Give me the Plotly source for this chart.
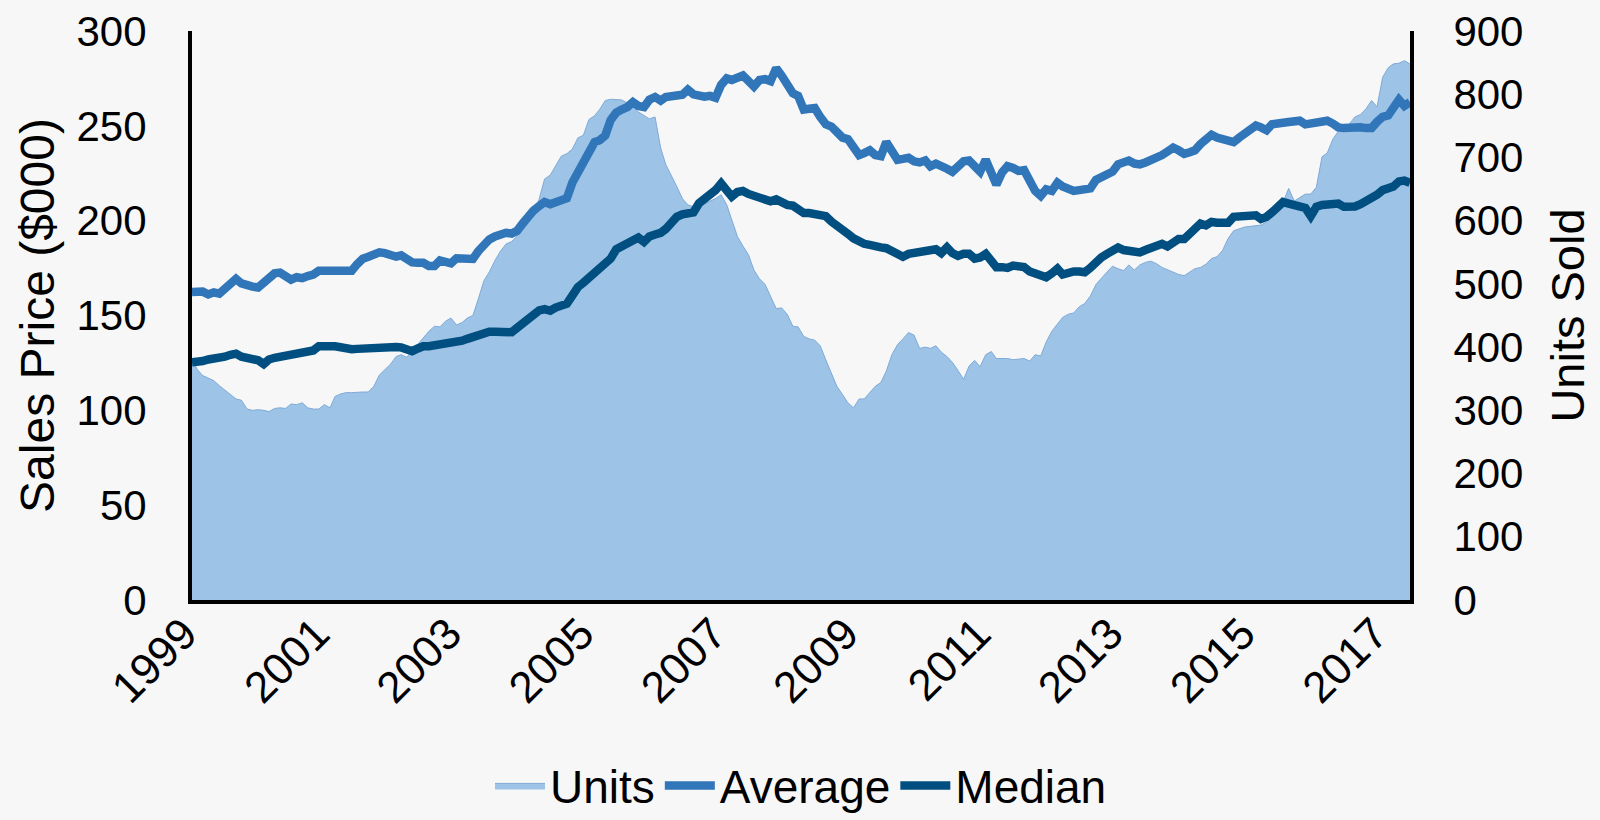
import pandas as pd
import plotly.graph_objects as go

start_month = "1999-01-01"
n_months = 222

average = [
    162.4, 162.8, 162.6, 161.1, 162.2, 161.5, 164.0, 166.9, 169.3, 166.9,
    165.4, 165.2, 164.8, 166.9, 169.8, 172.2, 172.6, 170.8, 168.9, 170.2,
    169.7, 170.8, 171.6, 173.6, 173.6, 172.6, 172.6, 172.8, 173.2, 173.6,
    177.1, 180.0, 181.0, 182.5, 183.3, 182.9, 181.4, 181.0,
    181.7, 180.0, 178.0, 177.8, 177.8, 176.1, 176.1, 179.0, 178.6, 177.5,
    180.2, 180.4, 180.0, 179.8, 183.9, 187.2, 190.1, 191.7, 193.1, 193.6,
    193.2, 194.6, 198.5, 202.4, 205.3, 207.7, 209.8, 208.7, 209.8, 211.2,
    211.8, 220.0, 225.8, 231.3, 237.5, 241.4, 242.4,
    244.9, 253.1, 257.0, 258.6, 259.9,
    262.5, 260.5, 259.9, 263.8, 265.2, 263.3, 265.2, 266.0, 266.0, 266.4,
    269.1, 266.6, 265.6, 265.4, 265.8, 264.8, 271.6, 275.0, 274.2, 275.0,
    276.5, 273.6, 270.7, 274.2, 274.6, 273.6, 280.4, 276.5, 270.7, 267.2,
    265.8, 258.6,
    259.0, 259.4, 254.7, 250.8, 249.6, 246.9, 243.8, 243.0,
    238.5, 234.6, 235.6, 237.1, 234.6, 234.0, 241.4, 236.0, 232.1, 232.6,
    233.2, 231.3, 230.7, 231.7, 228.7, 230.1, 228.2, 227.4, 225.8, 228.7,
    231.3, 231.7, 228.7, 225.8, 232.1, 223.9, 219.0, 225.4, 228.7,
    227.8, 226.2, 226.6, 220.0, 215.7, 213.1, 216.5, 215.7, 220.0, 218.0,
    216.5, 215.7, 216.1, 216.6, 217.0, 221.5, 222.9, 225.2, 225.8, 229.7,
    230.7, 231.7, 230.1, 229.7, 230.7, 231.7, 232.8, 234.6, 236.5, 238.5,
    237.1, 235.2, 236.1, 237.1, 240.4, 243.4, 245.3,
    243.8, 243.0, 241.8, 241.4, 243.8, 246.3, 247.7, 250.2, 249.2, 247.7,
    250.8, 251.7, 251.6, 252.0, 252.3, 252.7, 250.8, 251.2, 252.0, 252.3,
    252.7, 251.2, 249.2, 248.8, 249.2, 249.2, 249.2, 248.8, 248.8, 252.1,
    254.7, 255.5, 259.4, 263.8, 260.5, 262.5,
]

median = [
    125.4, 125.4, 126.0, 126.8, 127.1, 127.5, 128.3, 129.3, 129.9, 128.3,
    127.9, 127.3, 126.4, 124.4, 126.8, 127.7, 128.3, 128.3, 128.7, 129.3,
    130.7, 131.2, 131.6, 133.8, 134.2, 133.8, 133.8, 133.2, 132.2, 132.2,
    132.4, 132.6, 132.8, 133.2, 133.8, 133.8, 133.8, 133.4,
    133.2, 132.2, 131.2, 132.6, 133.8, 133.8, 134.2, 134.9, 135.3, 135.7,
    136.3, 136.7, 137.7, 138.8, 140.4, 141.2, 141.4, 141.4, 141.2, 141.0,
    141.2, 143.5, 145.9, 147.4, 149.8, 152.7, 153.3, 152.5, 154.2, 155.2,
    156.2, 160.5, 165.0, 167.3, 170.2, 173.0, 175.0,
    177.1, 180.0, 184.9, 186.4, 187.8,
    190.3, 191.1, 188.8, 191.7, 192.7, 193.6, 195.6, 198.9, 202.0, 203.3,
    203.5, 204.4, 209.2, 211.2, 213.7, 216.1, 219.6, 215.7, 212.7, 215.1,
    215.7, 214.1, 213.1, 212.2, 210.2, 210.2, 211.2, 209.2, 208.3, 207.9,
    205.9, 204.0,
    204.0, 203.4, 203.8, 202.4, 199.5, 197.5, 196.2, 193.1,
    190.7, 188.8, 187.8, 187.2, 186.2, 185.9, 185.5, 183.9, 181.9, 181.0,
    182.5, 182.9, 183.3, 183.9, 184.5, 184.9, 182.9, 185.9, 182.9, 181.4,
    182.5, 182.5, 180.0, 180.6, 182.5, 178.0, 175.5, 175.5, 175.1,
    176.3, 175.7, 175.5, 173.2, 172.2, 171.2, 170.2, 172.2, 174.7, 171.6,
    172.8, 173.2, 173.2, 172.8, 175.1, 178.6, 180.6, 182.5, 184.5, 185.8,
    184.5, 183.9, 182.9, 183.3, 184.5, 185.2, 186.4, 187.8, 186.4, 188.8,
    190.3, 190.3, 193.1, 196.2, 198.5, 197.5, 199.3,
    198.9, 198.7, 198.9, 202.0, 202.4, 202.8, 203.4, 202.8, 200.9, 202.0,
    204.4, 207.3, 209.8, 209.0, 208.3, 207.9, 206.7, 202.4, 207.3, 208.3,
    208.3, 208.7, 209.0, 207.3, 207.1, 207.5, 208.7, 210.2, 212.2, 213.7,
    216.1, 216.6, 218.0, 220.7, 221.1, 220.0,
]

units = [
    379, 364, 355, 351, 347, 339, 332, 326, 318, 316,
    302, 300, 301, 300, 298, 303, 304, 303, 310, 309,
    312, 304, 302, 302, 309, 304, 322, 326, 328, 328,
    329, 329, 329, 338, 356, 364, 373, 385,
    388, 384, 394, 405, 414, 425, 433, 432, 441, 446,
    435, 439, 446, 450, 476, 505, 519, 537, 552, 563,
    567, 575, 584, 596, 610, 634, 666, 672, 686, 702,
    706, 713, 731, 735, 760, 766, 776,
    790, 792, 792, 791, 786,
    780, 772, 767, 761, 764, 715, 689, 672, 654, 635,
    625, 622, 624, 626, 631, 635, 641, 625, 601, 575,
    560, 546, 522, 508, 499, 481, 461, 462, 452, 433,
    432, 417,
    413, 411, 402, 380, 359, 338, 325, 312,
    304, 318, 318, 328, 338, 344, 362, 388, 404, 413,
    423, 419, 398, 400, 398, 402, 392, 385, 376, 363,
    349, 370, 379, 369, 388, 393, 382, 382, 382,
    380, 381, 382, 378, 388, 386, 408, 425, 436, 447,
    452, 454, 464, 469, 481, 499, 509, 518, 528, 524,
    521, 530, 522, 530, 534, 536, 532, 526, 522, 518,
    515, 513, 519, 524, 526, 531, 540,
    543, 553, 572, 584, 587, 590, 591, 592, 593, 598,
    607, 616, 629, 651, 631, 636, 642, 642, 653, 701,
    707, 729, 741, 746, 753, 764, 768, 777, 790, 780,
    827, 842, 848, 849, 853, 848,
]

tick_years = ["1999", "2001", "2003", "2005", "2007", "2009", "2011", "2013", "2015", "2017"]
price_ticks = [0, 50, 100, 150, 200, 250, 300]
unit_ticks = [0, 100, 200, 300, 400, 500, 600, 700, 800, 900]

dates = pd.date_range(start_month, periods=n_months, freq="MS")

FONT = "Liberation Sans, Arial, sans-serif"
BG = "#f7f7f7"

fig = go.Figure()
fig.add_trace(go.Scatter(
    x=dates, y=units, name="Units", yaxis="y", mode="lines",
    line=dict(color="#7faad8", width=1), fill="tozeroy", fillcolor="#9dc3e6",
))
fig.add_trace(go.Scatter(
    x=dates, y=average, name="Average", yaxis="y2", mode="lines",
    line=dict(color="#3176b8", width=8.5),
))
fig.add_trace(go.Scatter(
    x=dates, y=median, name="Median", yaxis="y2", mode="lines",
    line=dict(color="#004f80", width=8.5),
))

fig.update_layout(
    width=1600, height=820,
    paper_bgcolor=BG, plot_bgcolor=BG,
    margin=dict(l=192, r=190, t=31, b=220, autoexpand=False),
    font=dict(family=FONT, color="black", size=42),
    showlegend=True,
    legend=dict(
        orientation="h", x=0.5, xanchor="center", y=-0.326, yanchor="middle",
        font=dict(size=46, family=FONT), bgcolor="rgba(0,0,0,0)",
        itemwidth=50, tracegroupgap=0,
    ),
    xaxis=dict(
        type="date", automargin=False,
        range=[dates[0], dates[-1]],
        tickvals=[pd.Timestamp(y + "-01-01") for y in tick_years],
        ticktext=tick_years,
        tickangle=-45,
        tickfont=dict(size=44),
        ticklabelshift=-8, ticklabelstandoff=-14,
        showgrid=False, zeroline=False,
        showline=True, linecolor="black", linewidth=4,
        ticks="",
    ),
    yaxis=dict(
        side="right", range=[0, 900], tickvals=unit_ticks, automargin=False,
        showgrid=False, zeroline=False,
        showline=True, linecolor="black", linewidth=4,
        ticks="outside", ticklen=31, tickcolor="rgba(0,0,0,0)",
        tickfont=dict(size=42),
        title=dict(text="Units Sold", font=dict(size=47), standoff=30),
    ),
    yaxis2=dict(
        side="left", overlaying="y", range=[0, 300], tickvals=price_ticks, automargin=False,
        showgrid=False, zeroline=False,
        showline=True, linecolor="black", linewidth=4,
        ticks="outside", ticklen=33, tickcolor="rgba(0,0,0,0)",
        tickfont=dict(size=42),
        title=dict(text="Sales Price ($000)", font=dict(size=48), standoff=8),
    ),
)

fig.write_html(
    "out.html",
    config={"displayModeBar": False},
    post_script="document.body.style.margin='0';document.body.style.background='#f7f7f7';",
)
